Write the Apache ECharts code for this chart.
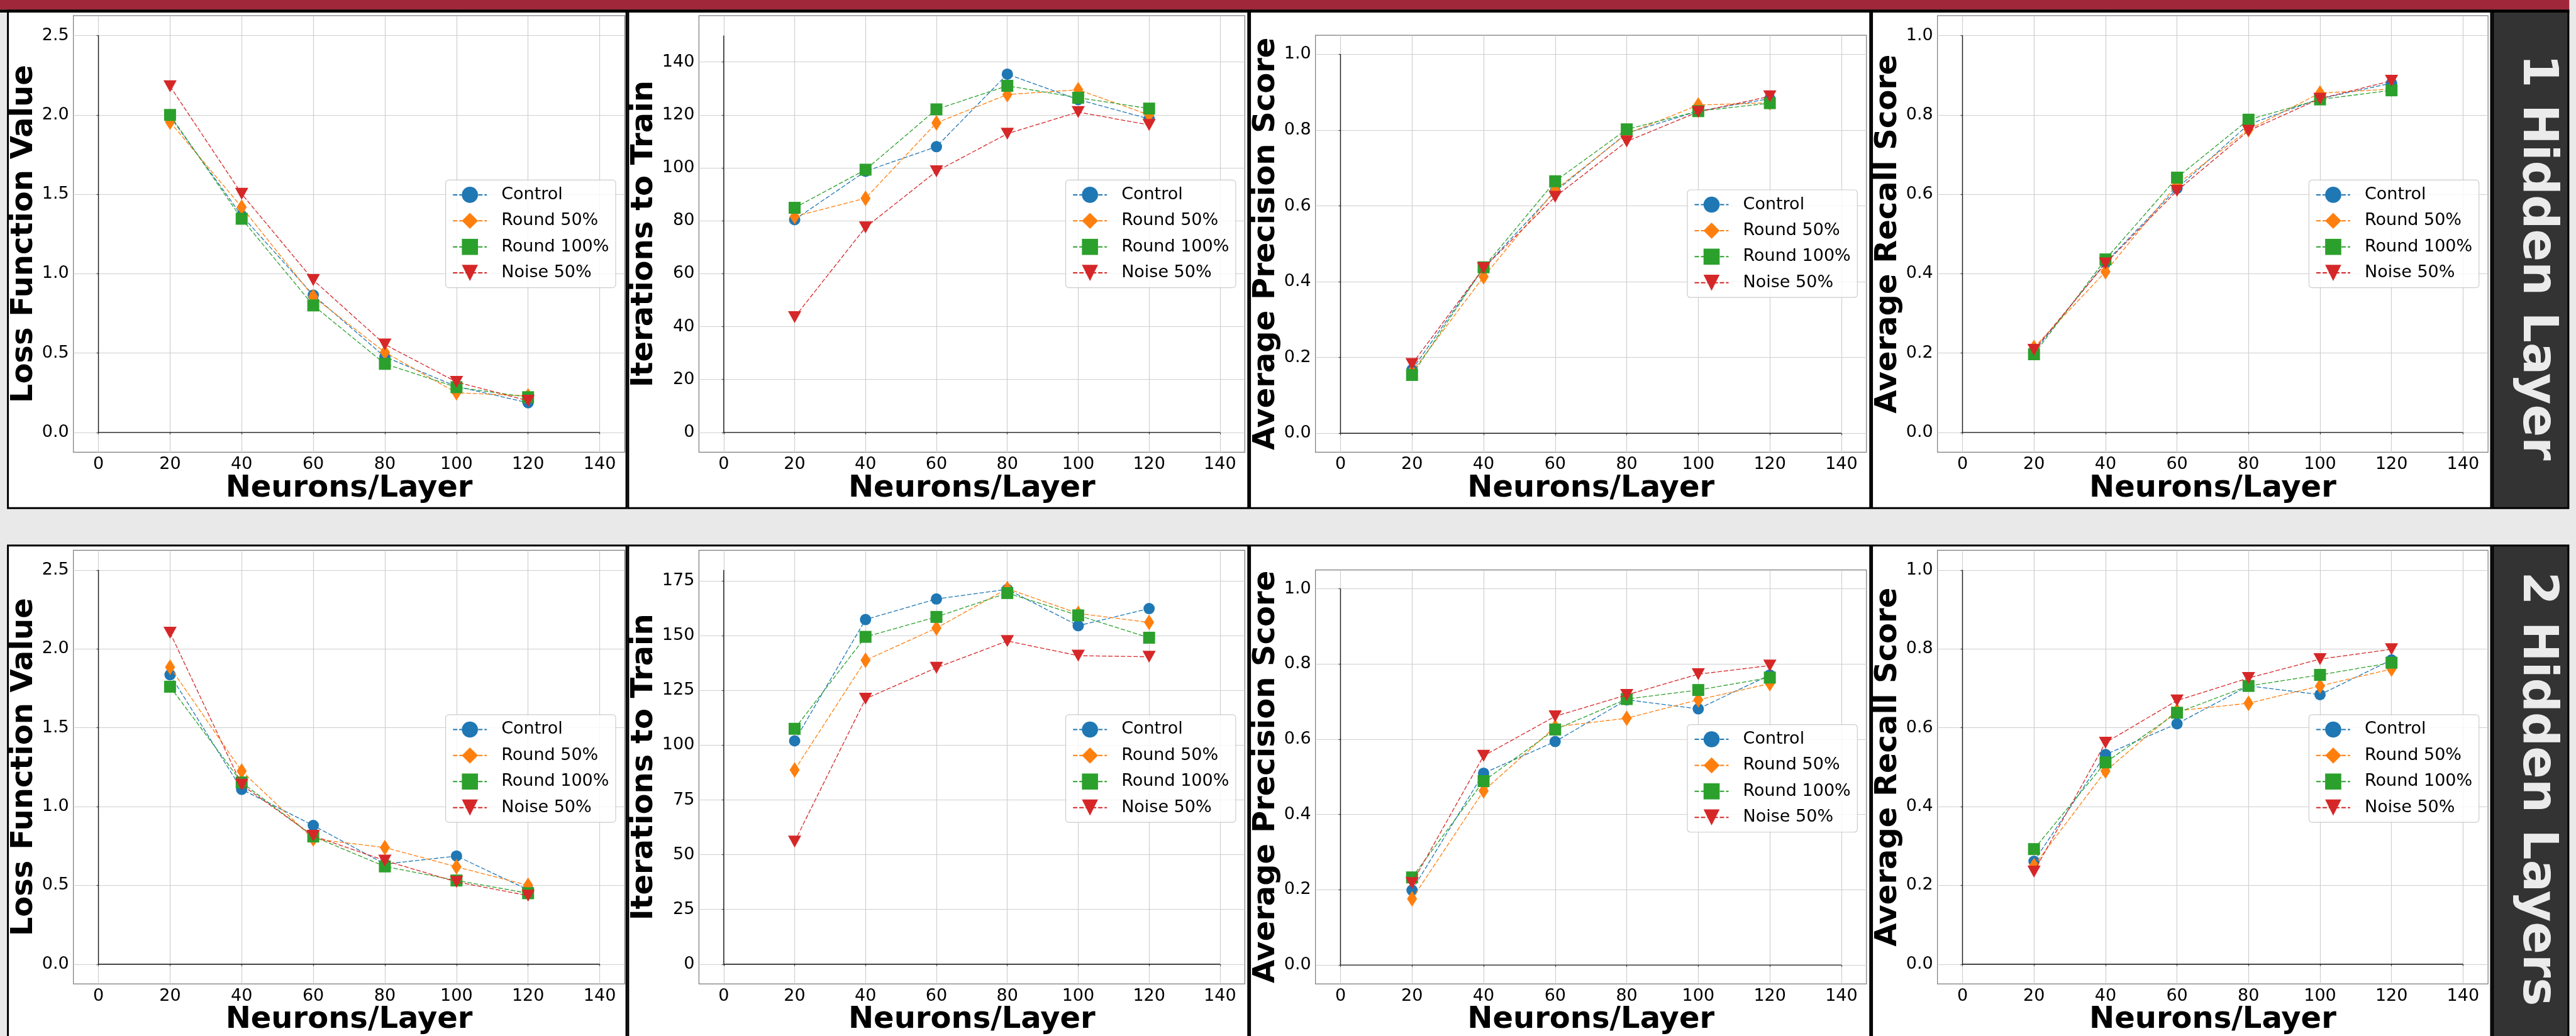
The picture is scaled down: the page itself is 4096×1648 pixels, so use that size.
<!DOCTYPE html>
<html><head><meta charset="utf-8">
<script src="https://cdn.jsdelivr.net/npm/echarts@6/dist/echarts.min.js"></script>
<style>html,body{margin:0;padding:0;background:#e9e9e9;overflow:hidden}#c{width:4096px;height:1648px}</style>
</head><body><div id="c"></div>
<script>
// ---------------- data ----------------
const neurons = [20, 40, 60, 80, 100, 120];
const seriesNames = ['Control', 'Round 50%', 'Round 100%', 'Noise 50%'];
const xTicks = [0, 20, 40, 60, 80, 100, 120, 140];
const xTop = 140;
const lossTicks = [0, 0.5, 1.0, 1.5, 2.0, 2.5];
const lossTop = 2.5;
const iter1Ticks = [0, 20, 40, 60, 80, 100, 120, 140];
const iter1Top = 150;
const iter2Ticks = [0, 25, 50, 75, 100, 125, 150, 175];
const iter2Top = 180;
const scoreTicks = [0, 0.2, 0.4, 0.6, 0.8, 1.0];
const scoreTop = 1.0;
const rowLabels = ['1 Hidden Layer', '2 Hidden Layers'];

// 1 hidden layer
const loss1Control = [1.99, 1.366, 0.865, 0.476, 0.29, 0.187];
const loss1Round50 = [1.955, 1.419, 0.855, 0.505, 0.25, 0.23];
const loss1Round100 = [2.0, 1.346, 0.80, 0.432, 0.285, 0.222];
const loss1Noise50 = [2.18, 1.503, 0.96, 0.554, 0.318, 0.20];
const iter1Control = [80.4, 98.7, 108.0, 135.4, 125.8, 118.5];
const iter1Round50 = [81.6, 88.5, 117.0, 127.7, 129.5, 120.0];
const iter1Round100 = [84.9, 99.3, 122.1, 131.0, 126.5, 122.4];
const iter1Noise50 = [43.6, 77.5, 98.7, 112.9, 121.1, 116.2];
const prec1Control = [0.168, 0.436, 0.638, 0.792, 0.85, 0.883];
const prec1Round50 = [0.162, 0.413, 0.642, 0.79, 0.866, 0.872];
const prec1Round100 = [0.154, 0.438, 0.665, 0.802, 0.85, 0.871];
const prec1Noise50 = [0.183, 0.436, 0.624, 0.77, 0.848, 0.889];
const rec1Control = [0.204, 0.428, 0.615, 0.776, 0.841, 0.88];
const rec1Round50 = [0.214, 0.405, 0.625, 0.763, 0.855, 0.865];
const rec1Round100 = [0.197, 0.436, 0.642, 0.788, 0.839, 0.862];
const rec1Noise50 = [0.208, 0.426, 0.609, 0.76, 0.841, 0.886];
// 2 hidden layers
const loss2Control = [1.836, 1.109, 0.88, 0.635, 0.686, 0.472];
const loss2Round50 = [1.884, 1.225, 0.795, 0.74, 0.618, 0.5];
const loss2Round100 = [1.76, 1.153, 0.81, 0.62, 0.531, 0.45];
const loss2Noise50 = [2.103, 1.138, 0.814, 0.657, 0.522, 0.435];
const iter2Control = [102.0, 157.4, 166.8, 171.2, 154.6, 162.4];
const iter2Round50 = [88.7, 138.8, 153.5, 171.5, 160.2, 156.1];
const iter2Round100 = [107.5, 149.5, 158.6, 169.5, 159.3, 149.1];
const iter2Noise50 = [56.0, 121.2, 135.4, 147.6, 140.9, 140.4];
const prec2Control = [0.199, 0.51, 0.594, 0.705, 0.681, 0.771];
const prec2Round50 = [0.176, 0.463, 0.633, 0.656, 0.705, 0.748];
const prec2Round100 = [0.233, 0.489, 0.626, 0.707, 0.731, 0.764];
const prec2Noise50 = [0.218, 0.556, 0.661, 0.718, 0.773, 0.796];
const rec2Control = [0.261, 0.532, 0.61, 0.706, 0.684, 0.772];
const rec2Round50 = [0.25, 0.49, 0.643, 0.662, 0.706, 0.749];
const rec2Round100 = [0.292, 0.512, 0.638, 0.706, 0.734, 0.765];
const rec2Noise50 = [0.235, 0.562, 0.669, 0.726, 0.774, 0.799];

// ---------------- layout / style ----------------
const S = 0.624, W = 4096;
const FONT = 'DejaVu Sans';
const colors = ['#1f77b4', '#ff7f0e', '#2ca02c', '#d62728'];
const symbols = ['circle', 'diamond', 'rect', 'triangle'];
const symbolSizes = [18, [16, 25], 19, [21, 19]];
const symbolRotates = [0, 0, 0, 180];

const panels = [
  {row: 0, col: 0, name: 'Loss Function Value', ticks: lossTicks, top: lossTop, dec: 1, data: [loss1Control, loss1Round50, loss1Round100, loss1Noise50]},
  {row: 0, col: 1, name: 'Iterations to Train', ticks: iter1Ticks, top: iter1Top, dec: 0, data: [iter1Control, iter1Round50, iter1Round100, iter1Noise50]},
  {row: 0, col: 2, name: 'Average Precision Score', ticks: scoreTicks, top: scoreTop, dec: 1, data: [prec1Control, prec1Round50, prec1Round100, prec1Noise50]},
  {row: 0, col: 3, name: 'Average Recall Score', ticks: scoreTicks, top: scoreTop, dec: 1, data: [rec1Control, rec1Round50, rec1Round100, rec1Noise50]},
  {row: 1, col: 0, name: 'Loss Function Value', ticks: lossTicks, top: lossTop, dec: 1, data: [loss2Control, loss2Round50, loss2Round100, loss2Noise50]},
  {row: 1, col: 1, name: 'Iterations to Train', ticks: iter2Ticks, top: iter2Top, dec: 0, data: [iter2Control, iter2Round50, iter2Round100, iter2Noise50]},
  {row: 1, col: 2, name: 'Average Precision Score', ticks: scoreTicks, top: scoreTop, dec: 1, data: [prec2Control, prec2Round50, prec2Round100, prec2Noise50]},
  {row: 1, col: 3, name: 'Average Recall Score', ticks: scoreTicks, top: scoreTop, dec: 1, data: [rec2Control, rec2Round50, rec2Round100, rec2Noise50]}
];

// frame geometry in reference pixels
const frameX = [[187, 1592], [1781, 3172], [3352, 4756], [4937, 6340]];
const frameTop = [40, 40, 90, 40];
const frameBottom = 1153;
const rowDY = 1363;
const yLabelDist = [93, 107, 95, 91];

const grids = [], xAxes = [], yAxes = [], series = [], legends = [];
panels.forEach((p, i) => {
  const fx0 = frameX[p.col][0] * S, fx1 = frameX[p.col][1] * S;
  const ft = (frameTop[p.col] + p.row * rowDY) * S;
  const fb = (frameBottom + p.row * rowDY) * S;
  grids.push({left: fx0, top: ft, width: fx1 - fx0, height: fb - ft, show: true,
    borderColor: '#7a7a7a', borderWidth: 1.2, backgroundColor: 'transparent', containLabel: false});
  xAxes.push({gridIndex: i, type: 'value', min: -0.05 * xTop, max: 1.05 * xTop,
    axisLine: {show: false},
    axisTick: {show: true, customValues: xTicks, length: 3, lineStyle: {color: '#444', width: 1.2}},
    axisLabel: {customValues: xTicks, fontSize: 27, color: '#000', margin: 6, fontFamily: FONT},
    splitLine: {show: true, lineStyle: {color: '#cfcfcf', width: 1.2}},
    name: 'Neurons/Layer', nameLocation: 'middle', nameGap: 31,
    nameTextStyle: {fontSize: 48, fontWeight: 'bold', color: '#000', fontFamily: FONT}});
  yAxes.push({gridIndex: i, type: 'value', min: -0.05 * p.top, max: 1.05 * p.top,
    axisLine: {show: false},
    axisTick: {show: true, customValues: p.ticks, length: 3, lineStyle: {color: '#444', width: 1.2}},
    axisLabel: {customValues: p.ticks, fontSize: 27, color: '#000', margin: 7, fontFamily: FONT,
      formatter: v => Number(v).toFixed(p.dec)},
    splitLine: {show: true, lineStyle: {color: '#cfcfcf', width: 1.2}},
    name: p.name, nameLocation: 'middle', nameRotate: 90, nameGap: yLabelDist[p.col] * S - 9.6,
    nameTextStyle: {fontSize: 48, fontWeight: 'bold', color: '#000', fontFamily: FONT}});
  // axis lines drawn as data (x=0 and y=0 lines)
  series.push({type: 'line', xAxisIndex: i, yAxisIndex: i, silent: true, symbol: 'none', z: 1,
    data: [[0, p.top], [0, 0], [xTop, 0]], lineStyle: {color: '#1a1a1a', width: 1.4}});
  p.data.forEach((vals, k) => {
    series.push({type: 'line', name: seriesNames[k], xAxisIndex: i, yAxisIndex: i,
      data: neurons.map((x, j) => [x, vals[j]]),
      symbol: symbols[k], symbolSize: symbolSizes[k], symbolRotate: symbolRotates[k], showSymbol: true,
      itemStyle: {color: colors[k], borderWidth: 0},
      lineStyle: {color: colors[k], width: 1.3, type: [7, 3]},
      emphasis: {disabled: true}, z: 3 + k});
  });
  const lh = 171.6;
  legends.push({orient: 'vertical', right: W - (fx1 - 14.4), top: (ft + fb) / 2 - lh / 2,
    itemWidth: 54, itemHeight: 32, itemGap: 14.4, padding: [10, 10.6, 10, 10.6],
    backgroundColor: 'rgba(255,255,255,0.8)', borderColor: '#cccccc', borderWidth: 1.2, borderRadius: 5,
    textStyle: {fontSize: 27, color: '#000', fontFamily: FONT, padding: [0, 0, 0, 18]},
    selectedMode: false, data: seriesNames});
});

// decorations
const bounds = [11.2, 997.5, 1986.2, 2975.2, 3962.4, 4085.3];
const rowBox = [[17, 808.2], [867.7, 1720]];
const graphics = [
  {type: 'rect', z: -10, shape: {x: 0, y: 0, width: 4085.3, height: 15.3}, style: {fill: '#a02739'}}
];
rowBox.forEach((rb, r) => {
  for (let c = 0; c < 5; c++) {
    graphics.push({type: 'rect', z: -10, shape: {x: bounds[c] + 1.4, y: rb[0], width: bounds[c + 1] - bounds[c] - 2.8, height: rb[1] - rb[0]},
      style: {fill: c === 4 ? '#333333' : '#ffffff', stroke: '#000', lineWidth: 3}});
  }
});
graphics.push({type: 'rect', z: -9, shape: {x: 0, y: 15.3, width: 4085.3, height: 4.7}, style: {fill: '#000'}});
const labelY = [409.5, 1255];
rowLabels.forEach((t, r) => {
  graphics.push({type: 'text', z: 50, x: 4033, y: labelY[r], rotation: -Math.PI / 2,
    style: {text: t, fontSize: 76, fontWeight: 'bold', fontFamily: FONT, fill: '#ebebeb', align: 'center', verticalAlign: 'middle'}});
});

const chart = echarts.init(document.getElementById('c'), null, {renderer: 'canvas', width: 4096, height: 1648});
chart.setOption({
  animation: false,
  backgroundColor: '#e9e9e9',
  grid: grids, xAxis: xAxes, yAxis: yAxes, series: series, legend: legends,
  graphic: {elements: graphics}
});
</script></body></html>
